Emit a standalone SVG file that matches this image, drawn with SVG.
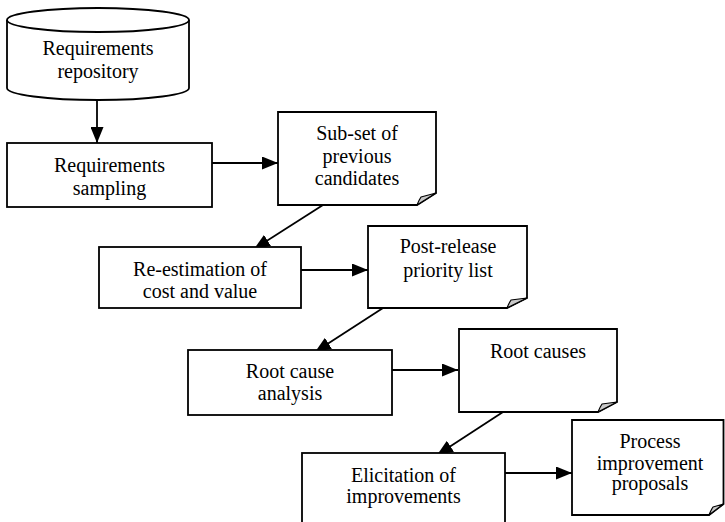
<svg xmlns="http://www.w3.org/2000/svg" width="725" height="522" viewBox="0 0 725 522">
  <style>
    .shape { fill: #ffffff; stroke: #000000; stroke-width: 1.8; }
    .fold { fill: #c8c8c8; stroke: #000000; stroke-width: 1.2; stroke-linejoin: round; }
    .edge { fill: none; stroke: #000000; stroke-width: 1.8; }
    text { font-family: "Liberation Serif", "Times New Roman", serif; font-size: 20px; fill: #000000; text-anchor: middle; }
  </style>
  <defs>
    <marker id="arrow" markerUnits="userSpaceOnUse" viewBox="0 0 16 13" refX="16" refY="6.5" markerWidth="16" markerHeight="13" orient="auto">
      <path d="M0,0 L16,6.5 L0,13 Z" fill="#000000"/>
    </marker>
  </defs>

  <!-- connectors (drawn first so node fills cover arrow tips) -->
  <g id="connectors">
    <line class="edge" x1="97" y1="101" x2="97" y2="143" marker-end="url(#arrow)"/>
    <line class="edge" x1="212" y1="163" x2="278" y2="163" marker-end="url(#arrow)"/>
    <line class="edge" x1="323" y1="205" x2="254" y2="249" marker-end="url(#arrow)"/>
    <line class="edge" x1="301" y1="270" x2="368" y2="270" marker-end="url(#arrow)"/>
    <line class="edge" x1="383" y1="308" x2="315" y2="352" marker-end="url(#arrow)"/>
    <line class="edge" x1="392" y1="370" x2="458" y2="370" marker-end="url(#arrow)"/>
    <line class="edge" x1="503" y1="412" x2="437" y2="455" marker-end="url(#arrow)"/>
    <line class="edge" x1="505" y1="473" x2="572" y2="473" marker-end="url(#arrow)"/>
  </g>

  <!-- data store -->
  <g id="requirements-repository">
    <path class="shape" d="M7,20 V88 A91,12 0 0 0 189,88 V20"/>
    <ellipse class="shape" cx="98" cy="20" rx="91" ry="12"/>
    <text x="98" y="55">Requirements</text>
    <text x="98" y="78">repository</text>
  </g>

  <g id="requirements-sampling">
    <rect class="shape" x="7" y="143" width="205" height="64"/>
    <text x="109.5" y="172">Requirements</text>
    <text x="109.5" y="195">sampling</text>
  </g>

  <g id="subset-previous-candidates">
    <path class="shape" d="M278,112 H436 V193 L417,205 H278 Z"/>
    <path class="fold" d="M417,205 Q419,200 421,197 L436,193 Z"/>
    <text x="357" y="140">Sub-set of</text>
    <text x="357" y="163">previous</text>
    <text x="357" y="185">candidates</text>
  </g>

  <g id="re-estimation">
    <rect class="shape" x="99" y="247" width="202" height="61"/>
    <text x="200" y="276">Re-estimation of</text>
    <text x="200" y="298">cost and value</text>
  </g>

  <g id="post-release-priority-list">
    <path class="shape" d="M368,226 H527 V298 L507,308 H368 Z"/>
    <path class="fold" d="M507,308 Q509,303 511,300 L527,298 Z"/>
    <text x="448" y="253">Post-release</text>
    <text x="448" y="277">priority list</text>
  </g>

  <g id="root-cause-analysis">
    <rect class="shape" x="188" y="350" width="204" height="65"/>
    <text x="290" y="378">Root cause</text>
    <text x="290" y="400">analysis</text>
  </g>

  <g id="root-causes">
    <path class="shape" d="M459,329 H617 V402 L598,412 H459 Z"/>
    <path class="fold" d="M598,412 Q600,407 602,404 L617,402 Z"/>
    <text x="538" y="358">Root causes</text>
  </g>

  <g id="elicitation-of-improvements">
    <rect class="shape" x="302" y="453" width="203" height="72"/>
    <text x="403.5" y="482">Elicitation of</text>
    <text x="403.5" y="503">improvements</text>
  </g>

  <g id="process-improvement-proposals">
    <path class="shape" d="M572,420 H723.5 V504 L709,515 H572 Z"/>
    <path class="fold" d="M709,515 Q711,510 713,507 L723.5,504 Z"/>
    <text x="650" y="448">Process</text>
    <text x="650" y="470">improvement</text>
    <text x="650" y="490">proposals</text>
  </g>
</svg>
